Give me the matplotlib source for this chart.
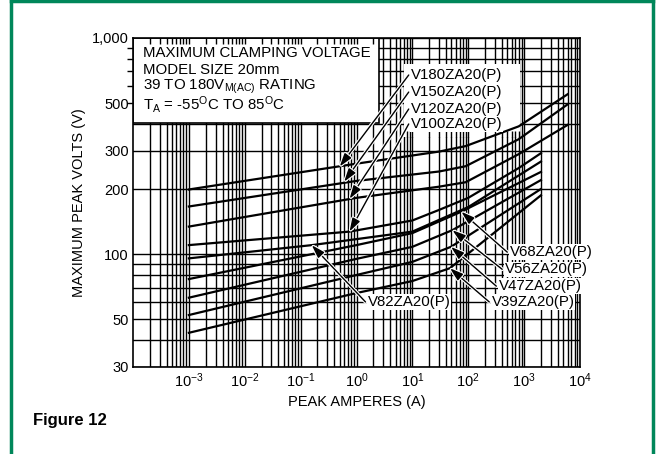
import matplotlib
matplotlib.use("Agg")
import matplotlib.pyplot as plt
import matplotlib.patheffects as pe
from matplotlib.patches import Rectangle
import numpy as np

plt.rcParams['font.family'] = ['Liberation Sans', 'DejaVu Sans']
plt.rcParams['mathtext.fontset'] = 'custom'
plt.rcParams['mathtext.rm'] = 'Liberation Sans'
plt.rcParams['mathtext.it'] = 'Liberation Sans'

# curve data: peak amperes / clamping volts
names = ["V180ZA20(P)", "V150ZA20(P)", "V120ZA20(P)", "V100ZA20(P)", "V82ZA20(P)",
         "V68ZA20(P)", "V56ZA20(P)", "V47ZA20(P)", "V39ZA20(P)"]
amps = [
    [1e-3, 1, 30, 90, 800, 6000],
    [1e-3, 1, 30, 90, 800, 6000],
    [1e-3, 1, 30, 90, 800, 6000],
    [1e-3, 0.75, 10, 30, 100, 800, 2000],
    [1e-3, 0.16, 10, 100, 2000],
    [1e-3, 1, 10, 75, 2000],
    [1e-3, 1, 10, 52, 2000],
    [1e-3, 1, 10, 49, 2000],
    [1e-3, 1, 10, 47, 2000],
]
volts = [
    [199, 262, 298, 316, 390, 549],
    [166, 218, 241, 255, 340, 493],
    [134, 182, 205, 215, 290, 396],
    [110, 127, 143, 160, 182, 250, 293],
    [95.5, 110, 127, 165, 268],
    [76.6, 110, 125, 157, 240],
    [62.8, 95, 108, 129, 220],
    [52.2, 80, 92, 108, 200],
    [43.2, 66, 75, 86, 187],
]
# arrow tail (label anchor) and arrow tip, in (amps, volts)
label_pos = [(8.6, 674), (8.6, 562), (8.6, 469), (8.6, 400),
             (1.45, 60), (500, 102), (405, 85), (318, 71), (238, 60)]
arrow_tip = [(0.5, 254), (0.6, 216), (0.75, 180), (0.75, 127),
             (0.158, 110), (75, 157), (52, 129), (49, 108), (47, 86)]

yticks = [30, 50, 100, 200, 300, 500, 1000]
ytick_labels = ["30", "50", "100", "200", "300", "500", "1,000"]
xticks = [1e-3, 1e-2, 1e-1, 1e0, 1e1, 1e2, 1e3, 1e4]
info_lines = ["MAXIMUM CLAMPING VOLTAGE", "MODEL SIZE 20mm",
              "39 TO 180V$_{\\mathregular{M(AC)}}$ RATING",
              "T$_{\\mathregular{A}}$ = -55$^{\\mathregular{O}}$C TO 85$^{\\mathregular{O}}$C"]
info_y = [852, 711, 593, 490]

fig = plt.figure(figsize=(6.63, 4.54), dpi=100)
ax = fig.add_axes([133 / 663, 1 - 367 / 454, 447 / 663, 329 / 454])
ax.set_xscale("log")
ax.set_yscale("log")
ax.set_xlim(1e-4, 1e4)
ax.set_ylim(30, 1000)

ax.set_xticks(xticks)
ax.set_xticklabels([f"10$^{{\\mathregular{{{int(np.log10(t))}}}}}$" for t in xticks])
ax.set_yticks(yticks)
ax.set_yticklabels(ytick_labels)
ax.xaxis.set_minor_locator(matplotlib.ticker.LogLocator(base=10, subs=np.arange(2, 10)))
ax.yaxis.set_minor_locator(matplotlib.ticker.LogLocator(base=10, subs=np.arange(2, 10)))
ax.xaxis.set_minor_formatter(matplotlib.ticker.NullFormatter())
ax.yaxis.set_minor_formatter(matplotlib.ticker.NullFormatter())
ax.tick_params(which="both", length=0, labelsize=10.5, pad=3)
ax.set_axisbelow(True)
ax.grid(True, which="both", color="black", linewidth=1.0)
for s in ax.spines.values():
    s.set_linewidth(1.2)

# white info box in the upper left
box_right = 10 ** (-3 + (380 - 189.3) / 55.9)
box_bottom = 404
ax.add_patch(Rectangle((1e-4, box_bottom), box_right - 1e-4, 1000 - box_bottom,
                       facecolor="white", edgecolor="black", linewidth=1.2, zorder=1))
for txt, yv in zip(info_lines, info_y):
    ax.text(1.5e-4, yv, txt, fontsize=10.8, va="center", ha="left", zorder=3)

# white box behind the upper labels
ax.add_patch(Rectangle((7.2, 348), 860 - 7.2, 758 - 348, facecolor="white",
                       edgecolor="none", zorder=1))

# grid stubs along the box edges
gx = [m * 10.0 ** e for e in range(-4, 4) for m in range(1, 10)]
gy = [m * 10.0 ** e for e in range(1, 3) for m in range(1, 10)]
top_x = [v for v in gx if 1e-4 < v < box_right]
ax.plot(top_x, [1000] * len(top_x), ls="none", marker=3, ms=4, mew=1.0, color="black",
        zorder=2, clip_on=False)
left_y = [v for v in gy if box_bottom < v < 1000]
ax.plot([1e-4] * len(left_y), left_y, ls="none", marker=0, ms=4, mew=1.0, color="black",
        zorder=2, clip_on=False)
bot_x = [v for v in gx if 7.2 < v < 860]
ax.plot(bot_x, [348] * len(bot_x), ls="none", marker=2, ms=4, mew=1.0, color="black",
        zorder=2)

for a, v in zip(amps, volts):
    ax.plot(a, v, color="black", linewidth=1.6, zorder=4)

halo = [pe.Stroke(linewidth=2.6, foreground="white"), pe.Normal()]
for name, lp, tip in zip(names, label_pos, arrow_tip):
    ax.annotate("", xy=tip, xytext=lp, zorder=5,
                arrowprops=dict(arrowstyle="-|>,head_length=0.8,head_width=0.25",
                                color="black", lw=1.0, shrinkA=0, shrinkB=0,
                                path_effects=halo))
    ax.text(lp[0] * 1.1, lp[1], name, fontsize=10.8, va="center", ha="left", zorder=6,
            bbox=dict(facecolor="white", edgecolor="none", pad=0.5))

ax.set_xlabel("PEAK AMPERES (A)", fontsize=10.5, labelpad=4)
ax.set_ylabel("MAXIMUM PEAK VOLTS (V)", fontsize=10.5)

fig.text(33 / 663, 1 - 420 / 454, "Figure 12", fontsize=12, fontweight="bold", va="center")

# green frame
green = "#00875a"
fig.add_artist(plt.Line2D([11 / 663, 11 / 663], [0, 1], color=green, linewidth=2.5))
fig.add_artist(plt.Line2D([653 / 663, 653 / 663], [0, 1], color=green, linewidth=2.5))
fig.add_artist(plt.Line2D([11 / 663, 653 / 663], [0.997, 0.997], color=green, linewidth=2.5))

fig.savefig("out.png", dpi=100)
